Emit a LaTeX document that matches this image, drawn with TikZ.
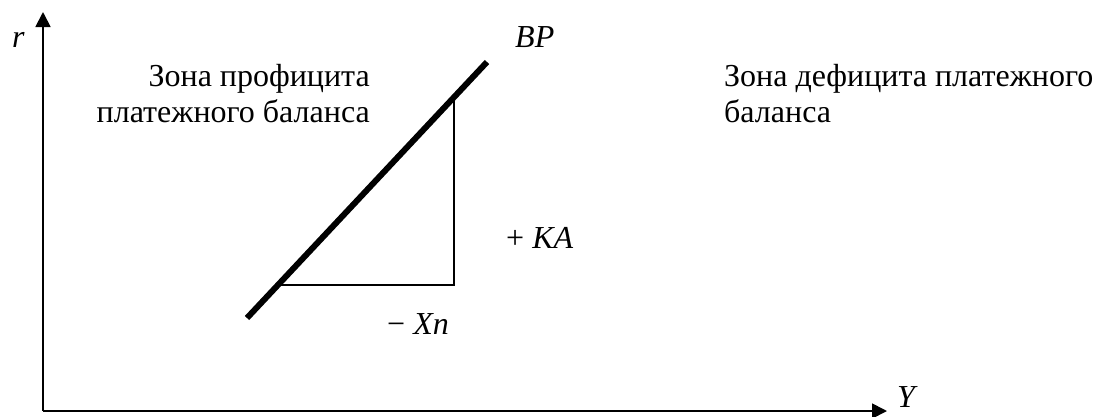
\documentclass[tikz,border=0pt]{standalone}
\usepackage{fontspec}
\setmainfont{Liberation Serif}
\usetikzlibrary{arrows.meta}
\begin{document}
\begin{tikzpicture}[x=1pt,y=-1pt,
  axis/.style={line width=1.8pt,-{Triangle[length=15pt,width=15pt]}},
  bpline/.style={line width=6pt},
  thin line/.style={line width=1.4pt},
  lbl/.style={inner sep=0pt,font=\fontsize{32}{36}\selectfont},
  every node/.style={inner sep=0pt}]
\useasboundingbox (0,0) rectangle (1096,416);
\coordinate (O) at (43,411);
\coordinate (Rtip) at (43,12);
\coordinate (Ytip) at (887,411);
\draw[axis] (O) -- (Rtip);
\draw[axis] (O) -- (Ytip);
\coordinate (B1) at (247,318);
\coordinate (B2) at (487,62);
\draw[bpline] (B1) -- (B2);
\coordinate (T1) at (280,285);
\coordinate (T2) at (454,285);
\coordinate (T3) at (454,97);
\draw[thin line] (T1) -- (T2) -- (T3);
\node[lbl,anchor=base west] (r) at (12,47) {\textit{r}};
\node[lbl,anchor=base west] (bp) at (515,47) {\textit{BP}};
\node[lbl,anchor=base west] (y) at (897,407) {\textit{Y}};
\node[lbl,anchor=base west] (ka) at (506,248) {+ \textit{KA}};
\node[lbl,anchor=base west] (xn) at (387,334) {− \textit{Xn}};
\node[lbl,anchor=north east,align=right] (surplus) at (370,64) {Зона профицита\\платежного баланса};
\node[lbl,anchor=north west,align=left] (deficit) at (724,64) {Зона дефицита платежного\\баланса};
\end{tikzpicture}
\end{document}
